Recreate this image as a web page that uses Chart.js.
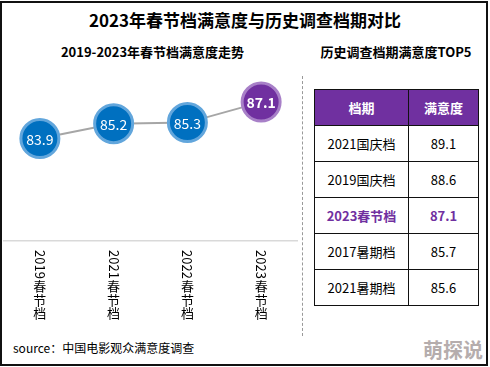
<!DOCTYPE html>
<html>
<head>
<meta charset="utf-8">
<script src="https://cdn.jsdelivr.net/npm/chart.js@4/dist/chart.umd.min.js"></script>
<style>
  html, body { margin: 0; padding: 0; background: #fff; }
  body { width: 490px; height: 367px; position: relative; overflow: hidden;
         font-family: "Noto Sans CJK SC", "Noto Sans", sans-serif; color: #000; }
  .frame { position: absolute; left: 0; top: 1px; width: 484px; height: 361px; border: 2px solid #111; }
  .title { position: absolute; left: 0; width: 490px; top: 7px; text-align: center; font-size: 17px; font-weight: bold; }
  .sub { position: absolute; top: 42px; font-size: 13px; font-weight: bold; text-align: center; }
  .divider { position: absolute; left: 302px; top: 76px; height: 260px; border-left: 1.5px dashed #999; }
  #chartBox { position: absolute; left: 3px; top: 60px; width: 295px; height: 272px; }
  table { position: absolute; left: 314px; top: 89px; border-collapse: collapse; }
  td, th { border: 1.5px solid #111; height: 35px; text-align: center; font-size: 13px; font-weight: normal; padding: 0; }
  th { background: #7030a0; color: #fff; font-weight: bold; }
  tr.hl td { color: #7030a0; font-weight: bold; }
  .source { position: absolute; left: 13px; top: 339px; font-size: 12px; }
  .mark { position: absolute; left: 423px; top: 335px; font-size: 20px; font-weight: bold; color: #b5adad; }
</style>
</head>
<body>
<div class="frame"></div>
<div class="title">2023年春节档满意度与历史调查档期对比</div>
<div class="sub" style="left:50px;width:205px;">2019-2023年春节档满意度走势</div>
<div class="sub" style="left:310px;width:172px;">历史调查档期满意度TOP5</div>
<div class="divider"></div>
<div id="chartBox"><canvas id="trend"></canvas></div>
<table id="top5"></table>
<div class="source">source：中国电影观众满意度调查</div>
<div class="mark">萌探说</div>

<script>
// 春节档走势
const seasons = ['2019春节档', '2021春节档', '2022春节档', '2023春节档'];
const scores = [83.9, 85.2, 85.3, 87.1];

// 历史TOP5
const tableHead = ['档期', '满意度'];
const topNames = ['2021国庆档', '2019国庆档', '2023春节档', '2017暑期档', '2021暑期档'];
const topScores = [89.1, 88.6, 87.1, 85.7, 85.6];
const highlightName = '2023春节档';

const BLUE = '#0070c0';
const PURPLE = '#7030a0';

// ─── TABLE ────────────────────────────────────────
const tbl = document.getElementById('top5');
let html = `<tr><th style="width:93px">${tableHead[0]}</th><th style="width:69px">${tableHead[1]}</th></tr>`;
topNames.forEach((n, i) => {
  html += `<tr class="${n === highlightName ? 'hl' : ''}"><td>${n}</td><td>${topScores[i].toFixed(1)}</td></tr>`;
});
tbl.innerHTML = html;

// ─── PLUGINS ──────────────────────────────────────
const pointLabels = {
  id: 'pointLabels',
  afterDatasetsDraw(chart) {
    const { ctx } = chart;
    const meta = chart.getDatasetMeta(0);
    ctx.save();
    ctx.textAlign = 'center';
    ctx.textBaseline = 'middle';
    ctx.fillStyle = '#fff';
    meta.data.forEach((pt, i) => {
      const last = i === scores.length - 1;
      ctx.font = `${last ? 'bold ' : ''}14px "Noto Sans CJK SC", sans-serif`;
      ctx.fillText(scores[i].toFixed(1), pt.x, pt.y + 1);
    });
    ctx.restore();
  },
};

// vertical labels: digits turned, CJK upright
const verticalTicks = {
  id: 'verticalTicks',
  afterDraw(chart) {
    const { ctx, scales: { x }, chartArea } = chart;
    ctx.save();
    ctx.fillStyle = '#000';
    ctx.font = '13px "Noto Sans CJK SC", sans-serif';
    seasons.forEach((label, i) => {
      const cx = x.getPixelForTick(i);
      let y = chartArea.bottom + 9;
      const digits = label.match(/^\d+/)[0];
      const rest = label.slice(digits.length);
      const w = ctx.measureText(digits).width;
      ctx.save();
      ctx.translate(cx, y);
      ctx.rotate(Math.PI / 2);
      ctx.textAlign = 'left';
      ctx.textBaseline = 'middle';
      ctx.fillText(digits, 0, 0);
      ctx.restore();
      y += w + 1;
      ctx.textAlign = 'center';
      ctx.textBaseline = 'top';
      for (const ch of rest) {
        ctx.fillText(ch, cx, y);
        y += 13.5;
      }
    });
    ctx.restore();
  },
};

// ─── CHART ────────────────────────────────────────
new Chart(document.getElementById('trend'), {
  type: 'line',
  data: {
    labels: seasons,
    datasets: [{
      data: scores,
      borderColor: '#a6a6a6',
      borderWidth: 2,
      pointRadius: 19,
      pointHoverRadius: 19,
      pointBorderWidth: 3,
      pointBackgroundColor: scores.map((_, i) => i === scores.length - 1 ? PURPLE : BLUE),
      pointBorderColor: scores.map((_, i) => i === scores.length - 1 ? '#a880c8' : '#62a6dc'),
      tension: 0,
      clip: false,
    }],
  },
  options: {
    responsive: true,
    maintainAspectRatio: false,
    animation: false,
    layout: { autoPadding: false, padding: { top: 0, bottom: 83, left: 0, right: 0 } },
    plugins: { legend: { display: false }, tooltip: { enabled: false } },
    scales: {
      x: {
        offset: true,
        ticks: { display: false },
        grid: { display: false },
        border: { display: true, color: '#d9d9d9', width: 1.5 },
      },
      y: { display: false, min: 74.9, max: 90.8 },
    },
  },
  plugins: [pointLabels, verticalTicks],
});
</script>
</body>
</html>
